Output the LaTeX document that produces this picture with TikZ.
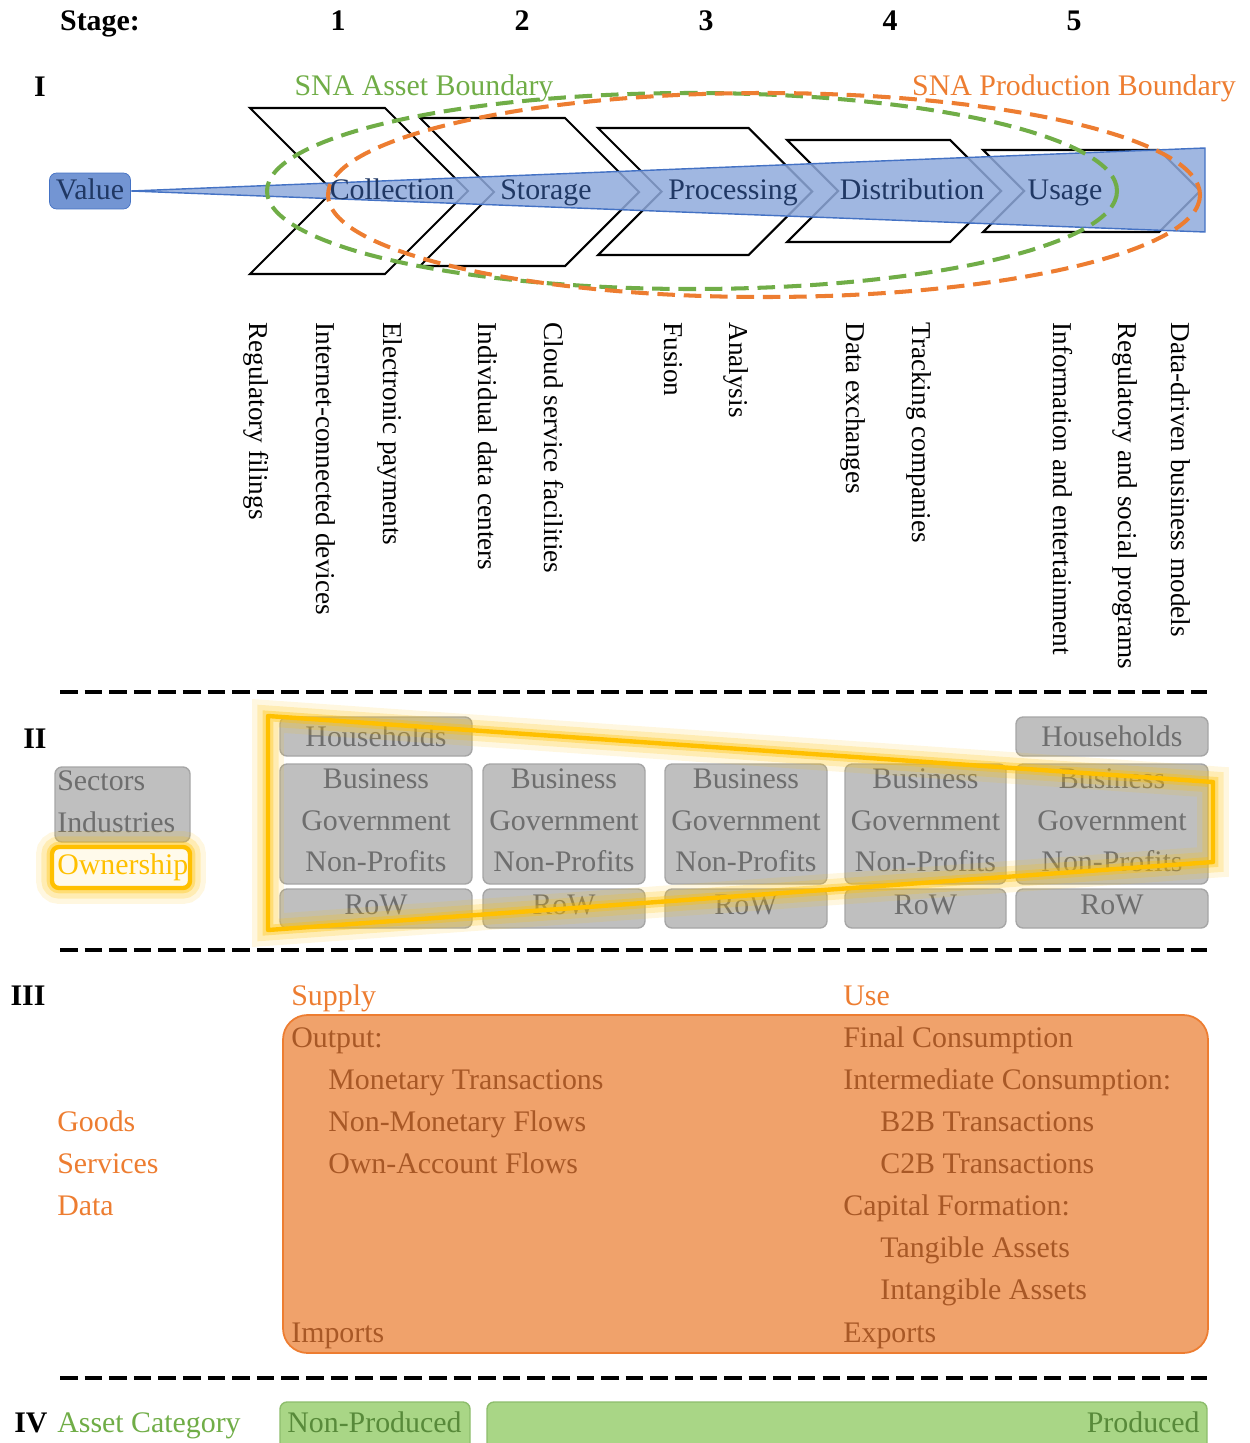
\documentclass[tikz,border=0pt]{standalone}
\usepackage{fontspec}
\setmainfont{Liberation Serif}
\usepackage{xcolor}
\usepackage{tikz}
\usetikzlibrary{positioning}
\definecolor{sna_blue}{RGB}{68, 114, 196}
\definecolor{sna_navy}{RGB}{32, 56, 100}
\definecolor{sna_green}{RGB}{112, 173, 71}
\definecolor{sna_lightgreen}{RGB}{169, 214, 134}
\definecolor{sna_darkgreen}{RGB}{88, 138, 58}
\definecolor{sna_orange}{RGB}{237, 125, 49}
\definecolor{sna_lightorange}{RGB}{240, 162, 107}
\definecolor{sna_brown}{RGB}{168, 88, 38}
\definecolor{sna_gray}{RGB}{191, 191, 191}
\definecolor{sna_grayline}{RGB}{166, 166, 166}
\definecolor{sna_graytext}{RGB}{110, 110, 110}
\definecolor{sna_yellow}{RGB}{255, 192, 0}

\begin{document}
\begin{tikzpicture}[x=0.02cm, y=-0.02cm,
    lbl/.style={inner sep=0pt, font=\fontsize{17}{20}\selectfont, text height=0.95em, text depth=0em},
    head/.style={lbl, font=\fontsize{17}{20}\selectfont\bfseries},
    vlbl/.style={lbl, font=\fontsize{15.5}{18}\selectfont, rotate=-90, anchor=west},
    chevron/.style={draw=black, line width=1.2pt},
    boundary/.style={line width=2.3pt, dash pattern=on 10pt off 5pt},
    sepline/.style={black, line width=2.3pt, dash pattern=on 10pt off 4pt},
    graybox/.style={fill=sna_gray, draw=sna_grayline, line width=0.8pt, rounded corners=4pt},
    graytxt/.style={lbl, text=sna_graytext},
    glow/.style={preaction={draw=sna_yellow, draw opacity=0.12, line width=18pt},
                 preaction={draw=sna_yellow, draw opacity=0.2, line width=12pt},
                 preaction={draw=sna_yellow, draw opacity=0.35, line width=6pt},
                 draw=sna_yellow, line width=2.5pt, line join=round},
    orangetxt/.style={lbl, anchor=west, text=sna_brown},
  ]
  \useasboundingbox (0,0) rectangle (1250,1443);

  % --- Stage header ---
  \node[head] (stage) at (100,22) {Stage:};
  \foreach \sx/\sn in {338/1, 522/2, 706/3, 890/4, 1074/5}
    \node[head] (stage\sn) at (\sx,22) {\sn};

  % ===== I : value chain =====
  \node[head] (secI) at (40,88) {I};

  % Chevrons
  \foreach \cl/\ct/\cb/\cr in {250/108/274/468, 420/118/266/639, 598/128/255/812, 787/140/242/1001, 983/150/232/1200} {
    \pgfmathsetmacro{\ch}{(\cb-\ct)/2}
    \pgfmathsetmacro{\cm}{(\cb+\ct)/2}
    \draw[chevron] (\cl,\ct) -- ({\cr-\ch},\ct) -- (\cr,\cm) -- ({\cr-\ch},\cb)
      -- (\cl,\cb) -- ({\cl+\ch},\cm) -- cycle;
  }

  % Value box and wedge
  \node[lbl, minimum width=1.62cm, minimum height=0.72cm, rounded corners=4pt,
    fill=sna_blue!75, draw=sna_blue, text=sna_navy] (value) at (90,191) {Value};
  \fill[sna_blue!60, fill opacity=0.85, draw=sna_blue, line width=0.8pt]
    (value.east) -- (1205,148) -- (1205,232) -- cycle;

  % Boundaries
  \draw[boundary, sna_green] (692,191) ellipse [x radius=425, y radius=98];
  \draw[boundary, sna_orange] (764,195) ellipse [x radius=436, y radius=102];
  \node[lbl, text=sna_green] (assetb) at (424,87) {SNA Asset Boundary};
  \node[lbl, text=sna_orange] (prodb) at (1074,87) {SNA Production Boundary};

  % Stage names
  \foreach \cx/\cname/\ctext in {392/coll/Collection, 546/stor/Storage, 733/proc/Processing,
      912/dist/Distribution, 1065/usage/Usage}
    \node[lbl, text=sna_navy] (\cname) at (\cx,191) {\ctext};

  % Examples per stage
  \foreach \rx/\rname/\rtext in {258/ex1/Regulatory filings, 325/ex2/Internet-connected devices,
      392/ex3/Electronic payments, 487/ex4/Individual data centers, 553/ex5/Cloud service facilities,
      673/ex6/Fusion, 738/ex7/Analysis, 855/ex8/Data exchanges, 921/ex9/Tracking companies,
      1062/ex10/Information and entertainment, 1127/ex11/Regulatory and social programs,
      1180/ex12/Data-driven business models}
    \node[vlbl] (\rname) at (\rx,322) {\rtext};

  \draw[sepline] (60,692) -- (1207,692);

  % ===== II : sectors =====
  \node[head] (secII) at (35,740) {II};
  \draw[graybox] (55,767) rectangle (190,842);
  \node[graytxt, anchor=west] (sectors) at (57,782) {Sectors};
  \node[graytxt, anchor=west] (industries) at (57,824) {Industries};
  \draw[glow, fill=sna_yellow!8, rounded corners=4pt] (52,847) rectangle (190,888);
  \node[lbl, anchor=west, text=sna_yellow] (ownership) at (57,866) {Ownership};

  % Households (first and last stage)
  \draw[graybox] (280,717) rectangle (472,756);
  \node[graytxt] (hh1) at (376,738) {Households};
  \draw[graybox] (1016,717) rectangle (1208,756);
  \node[graytxt] (hh5) at (1112,738) {Households};

  % Business / Government / Non-Profits / RoW
  \foreach \ca/\cb/\cn in {280/472/1, 483/645/2, 665/827/3, 845/1006/4, 1016/1208/5} {
    \draw[graybox] (\ca,764) rectangle (\cb,884);
    \draw[graybox] (\ca,889) rectangle (\cb,928);
    \node[graytxt] (bus\cn) at ({(\ca+\cb)/2},780) {Business};
    \node[graytxt] (gov\cn) at ({(\ca+\cb)/2},822) {Government};
    \node[graytxt] (npo\cn) at ({(\ca+\cb)/2},863) {Non-Profits};
    \node[graytxt] (row\cn) at ({(\ca+\cb)/2},906) {RoW};
  }

  % Ownership funnel
  \draw[glow] (268,716) -- (1213,782) -- (1213,862) -- (268,930) -- cycle;

  \draw[sepline] (60,950) -- (1207,950);

  % ===== III : supply and use =====
  \node[head] (secIII) at (28,997) {III};
  \node[lbl, anchor=west, text=sna_orange] (goods) at (57,1123) {Goods};
  \node[lbl, anchor=west, text=sna_orange] (services) at (57,1165) {Services};
  \node[lbl, anchor=west, text=sna_orange] (data) at (57,1207) {Data};

  \draw[fill=sna_lightorange, draw=sna_orange, line width=1pt, rounded corners=14pt]
    (283,1015) rectangle (1208,1353);
  \node[lbl, anchor=west, text=sna_orange] (supply) at (291,997) {Supply};
  \node[lbl, anchor=west, text=sna_orange] (use) at (843,997) {Use};

  \node[orangetxt] (output) at (291,1039) {Output:};
  \node[orangetxt] (monetary) at (328,1081) {Monetary Transactions};
  \node[orangetxt] (nonmonetary) at (328,1123) {Non-Monetary Flows};
  \node[orangetxt] (ownaccount) at (328,1165) {Own-Account Flows};
  \node[orangetxt] (imports) at (291,1334) {Imports};

  \node[orangetxt] (finalc) at (843,1039) {Final Consumption};
  \node[orangetxt] (interc) at (843,1081) {Intermediate Consumption:};
  \node[orangetxt] (btob) at (880,1123) {B2B Transactions};
  \node[orangetxt] (ctob) at (880,1165) {C2B Transactions};
  \node[orangetxt] (capf) at (843,1207) {Capital Formation:};
  \node[orangetxt] (tangible) at (880,1249) {Tangible Assets};
  \node[orangetxt] (intangible) at (880,1291) {Intangible Assets};
  \node[orangetxt] (exports) at (843,1334) {Exports};

  \draw[sepline] (60,1378) -- (1207,1378);

  % ===== IV : asset category =====
  \node[head, anchor=west] (secIV) at (14,1424) {IV};
  \node[lbl, anchor=west, text=sna_green] (assetcat) at (57,1424) {Asset Category};
  \draw[fill=sna_lightgreen, draw=sna_green!80, line width=0.8pt, rounded corners=4pt]
    (280,1402) rectangle (470,1455);
  \draw[fill=sna_lightgreen, draw=sna_green!80, line width=0.8pt, rounded corners=4pt]
    (487,1402) rectangle (1207,1455);
  \node[lbl, anchor=west, text=sna_darkgreen] (nonprod) at (287,1424) {Non-Produced};
  \node[lbl, anchor=east, text=sna_darkgreen] (prod) at (1200,1424) {Produced};
\end{tikzpicture}
\end{document}
